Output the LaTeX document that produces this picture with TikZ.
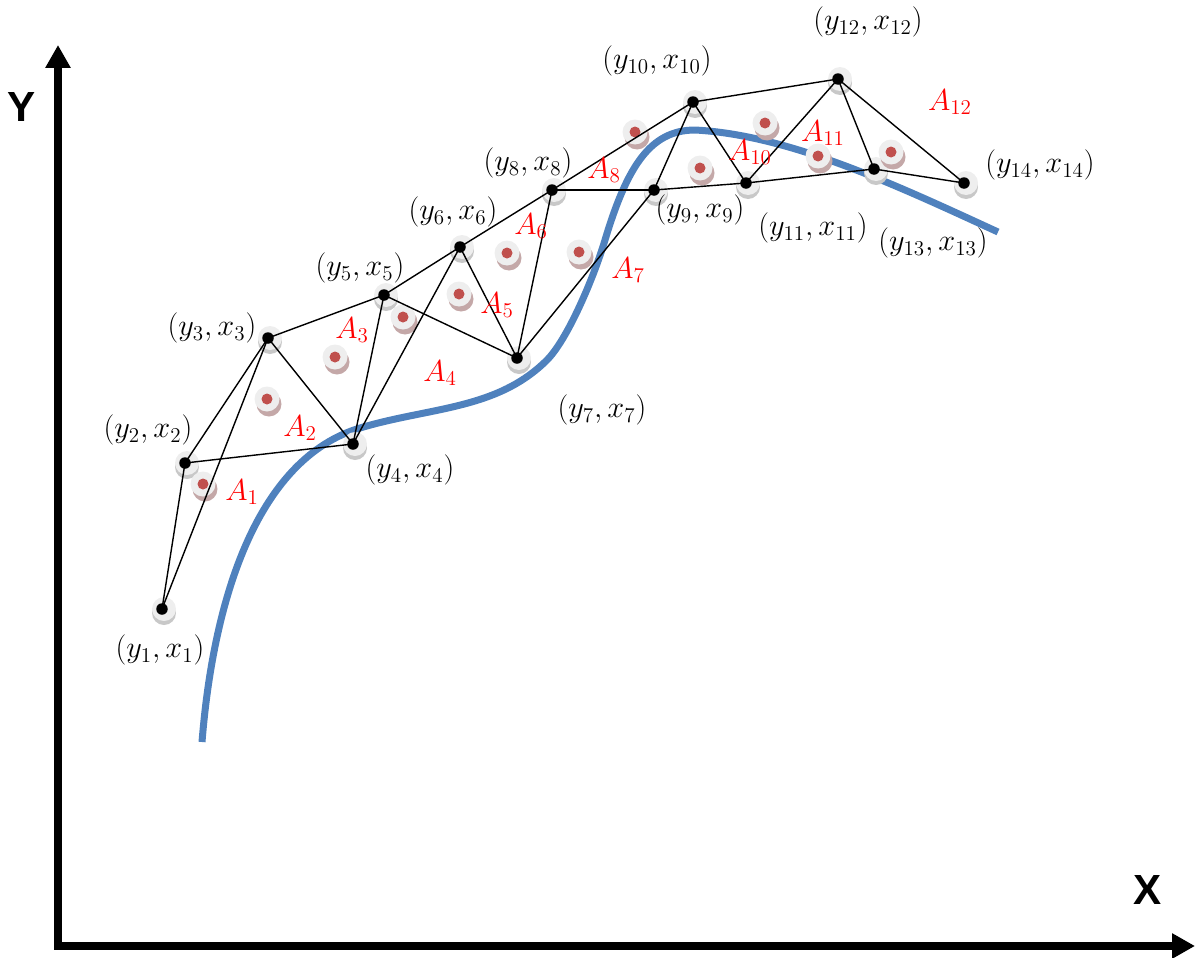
\documentclass[tikz,border=0pt]{standalone}
\usepackage{fontspec}
\newfontfamily\axisfont{Liberation Sans}
\usetikzlibrary{arrows.meta}
\definecolor{curveblue}{RGB}{79,129,189}
\definecolor{areared}{RGB}{255,0,0}
\definecolor{dotred}{RGB}{192,80,77}
\definecolor{ringface}{RGB}{238,238,238}
\definecolor{ringshade}{RGB}{200,200,200}
\definecolor{redshade}{RGB}{196,168,168}

\begin{document}
\begin{tikzpicture}[x=0.02cm, y=-0.02cm,
  >={Triangle[length=0.46cm,width=0.48cm]},
  axis/.style={<->, line width=0.17cm, draw=black},
  dot/.style={circle, fill=black, inner sep=0pt, minimum size=0.23cm},
  edge/.style={line width=0.8pt, draw=black},
  fitline/.style={line width=0.14cm, draw=curveblue},
  coord/.style={font=\fontsize{17}{20}\selectfont, inner sep=0pt},
  area/.style={font=\fontsize{17}{20}\selectfont, text=areared, inner sep=0pt},
  axislabel/.style={font=\axisfont\bfseries\fontsize{24}{28}\selectfont, inner sep=0pt},
]
\useasboundingbox (0,0) rectangle (1197,957);

% ------------------------------------------------------------------ axes
\coordinate (ytip) at (58,45);
\coordinate (origin) at (58,946);
\coordinate (xtip) at (1195,946);
\draw[axis] (ytip) -- (origin) -- (xtip);
\node[axislabel] (ylab) at (22,107) {Y};
\node[axislabel] (xlab) at (1148,890) {X};

% ------------------------------------------------------------------ fitted curve
\coordinate (f0) at (202,742);
\coordinate (f1) at (360,428);
\coordinate (f2) at (547,360);
\coordinate (f3) at (605,240);
\coordinate (f4) at (695,130);
\coordinate (f5) at (998,232);
\draw[fitline] (f0) .. controls (214,592) and (260,458) .. (f1)
  .. controls (430,407) and (497,410) .. (f2)
  .. controls (567,340) and (593,280) .. (f3)
  .. controls (627,167) and (650,130) .. (f4)
  .. controls (790,135) and (898,186) .. (f5);

% ------------------------------------------------------------------ rings under the points
\foreach \x/\y in {162/609,185/463,268/338,353/444,384/295,460/247,517/358,
                   552/190,654/190,693/102,746/183,838/79,874/169,964/183} {
  \fill[ringshade] (\x+2,\y+4) circle (0.24cm);
  \fill[ringface] (\x+2,\y) circle (0.24cm);
}

% red centre dots
\foreach \x/\y in {203/484,267/399,335/357,403/317,459/294,507/253,
                   579/252,635/132,700/168,765/123,818/156,891/152} {
  \fill[redshade] (\x+2,\y+5) circle (0.25cm);
  \fill[ringface] (\x,\y) circle (0.25cm);
  \fill[dotred] (\x,\y) circle (0.11cm);
}

% ------------------------------------------------------------------ points
\foreach \i/\x/\y in {1/162/609,2/185/463,3/268/338,4/353/444,5/384/295,
                      6/460/247,7/517/358,8/552/190,9/654/190,10/693/102,
                      11/746/183,12/838/79,13/874/169,14/964/183}
  \node[dot] (p\i) at (\x,\y) {};

% ------------------------------------------------------------------ triangle edges
\foreach \a/\b in {1/2,1/3,2/3,2/4,3/4,3/5,4/5,4/6,5/6,5/7,6/7,6/8,7/8,
                   7/9,8/9,8/10,9/10,9/11,10/11,10/12,11/12,11/13,12/13,
                   12/14,13/14}
  \draw[edge] (p\a.center) -- (p\b.center);

% ------------------------------------------------------------------ labels
\foreach \i/\x/\y in {1/160/650,2/148/430,3/212/328,4/410/470,5/360/268,
                      6/453/212,7/602/410,8/528/163,9/700/210,10/657/61,
                      11/813/228,12/868/22,13/933/243,14/1040/165}
  \node[coord] (c\i) at (\x,\y) {$(y_{\i},x_{\i})$};

\foreach \i/\x/\y in {1/242/492,2/300/428,3/352/330,4/440/373,5/497/305,
                      6/531/226,7/628/270,8/604/170,10/750/152,11/823/133,
                      12/950/102}
  \node[area] (a\i) at (\x,\y) {$A_{\i}$};
\end{tikzpicture}
\end{document}
